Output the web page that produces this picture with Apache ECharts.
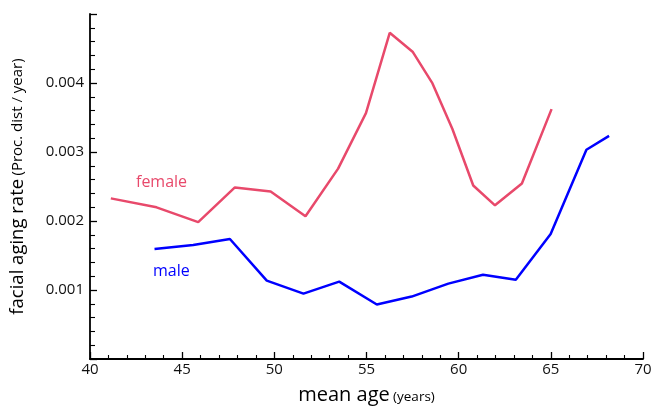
<!DOCTYPE html>
<html><head><meta charset="utf-8">
<script src="https://cdn.jsdelivr.net/npm/echarts@6/dist/echarts.min.js"></script>
<style>html,body{margin:0;padding:0;background:#fff}#c{width:656px;height:410px}</style>
</head><body><div id="c"></div>
<script>
const femaleAge = [41.13,43.61,45.87,47.86,49.80,51.69,53.46,54.97,56.26,57.50,58.58,59.66,60.79,61.97,63.43,65.04];
const femaleRate = [0.002328,0.002198,0.001983,0.002486,0.002428,0.002069,0.002759,0.003563,0.004727,0.004454,0.003994,0.003333,0.002514,0.002227,0.002543,0.003621];
const maleAge = [43.50,45.60,47.59,49.59,51.58,53.52,55.56,57.45,59.44,61.32,63.10,64.99,66.93,68.16];
const maleRate = [0.001595,0.001652,0.001739,0.001135,0.000948,0.001121,0.000790,0.000905,0.001092,0.001221,0.001149,0.001810,0.003032,0.003233];
const xTicks = [40,45,50,55,60,65,70];
const yTicks = [0.001,0.002,0.003,0.004];

const font = "'Open Sans', 'Noto Sans', sans-serif";
const chart = echarts.init(document.getElementById('c'), null, {renderer:'canvas'});
chart.setOption({
  animation:false,
  grid:{left:86,right:13,top:14,bottom:48,containLabel:false},
  xAxis:{
    type:'value',min:40,max:70,interval:5,
    axisLine:{lineStyle:{color:'#000',width:1.8}},
    axisTick:{inside:true,length:7,lineStyle:{color:'#000',width:1.3}},
    minorTick:{show:true,splitNumber:5,length:4,lineStyle:{color:'#000',width:1.1}},
    splitLine:{show:false},
    axisLabel:{color:'#111',fontFamily:font,fontSize:15,margin:3,
      formatter:v=>xTicks.includes(v)?String(v):''},
    name:'{a|mean age} {b|(years)}',nameLocation:'middle',nameGap:26,
    nameTextStyle:{rich:{a:{fontFamily:font,fontSize:20,color:'#000'},b:{fontFamily:font,fontSize:13.5,color:'#000',padding:[4,0,0,0]}}}
  },
  yAxis:{
    type:'value',min:0,max:0.005,interval:0.001,
    axisLine:{show:true,lineStyle:{color:'#000',width:1.8}},
    axisTick:{show:true,inside:true,length:7,lineStyle:{color:'#000',width:1.3}},
    minorTick:{show:true,splitNumber:5,length:5,lineStyle:{color:'#000',width:1.1}},
    splitLine:{show:false},
    axisLabel:{color:'#111',fontFamily:font,fontSize:15,margin:6,
      formatter:v=>{const r=Math.round(v*1000)/1000;return yTicks.some(t=>Math.abs(t-r)<1e-9)?r.toFixed(3):'';}},
    name:'{a|facial aging rate} {b|(Proc. dist / year)}',nameLocation:'middle',nameGap:63,
    nameTextStyle:{rich:{a:{fontFamily:font,fontSize:18.5,color:'#000'},b:{fontFamily:font,fontSize:15,color:'#000'}}}
  },
  series:[
    {name:'female',type:'line',data:femaleAge.map((a,i)=>[a,femaleRate[i]]),symbol:'none',
      lineStyle:{color:'#e8496b',width:2.5},itemStyle:{color:'#e8496b'}},
    {name:'male',type:'line',data:maleAge.map((a,i)=>[a,maleRate[i]]),symbol:'none',
      lineStyle:{color:'#0000ff',width:2.5},itemStyle:{color:'#0000ff'}}
  ],
  graphic:[
    {type:'text',left:136,top:174,style:{text:'female',fill:'#e8496b',font:"16px 'Open Sans'"}},
    {type:'text',left:153,top:263,style:{text:'male',fill:'#0000ff',font:"16px 'Open Sans'"}}
  ]
});
</script></body></html>
